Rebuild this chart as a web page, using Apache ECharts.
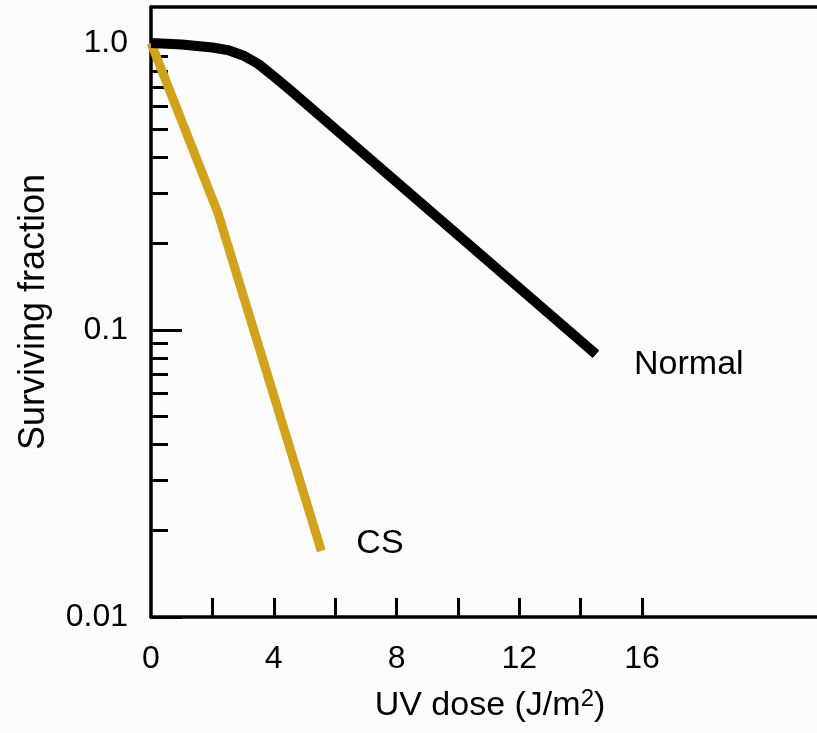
<!DOCTYPE html>
<html>
<head>
<meta charset="utf-8">
<script src="https://cdn.jsdelivr.net/npm/echarts@6/dist/echarts.min.js"></script>
<style>
html,body{margin:0;padding:0;background:#fcfcfc;}
#chart{width:817px;height:733px;}
</style>
</head>
<body>
<div id="chart"></div>
<script>
// UV dose (J/m^2) and surviving fraction
const normalDose = [0, 1.0, 2.0, 2.5, 3.0, 3.5, 4.0, 4.5, 14.5];
const normalSurv = [1.0, 0.988, 0.965, 0.945, 0.905, 0.845, 0.765, 0.691, 0.0823];
const csDose = [0, 2.18, 5.55];
const csSurv = [1.0, 0.256, 0.017];

const xTickValues = [2, 4, 6, 8, 10, 12, 14, 16];
const xLabelValues = [0, 4, 8, 12, 16];
const yMajorValues = [0.01, 0.1, 1];
const yMajorLabels = ['0.01', '0.1', '1.0'];
const yMinorValues = [0.02, 0.03, 0.04, 0.05, 0.06, 0.07, 0.08, 0.09,
                      0.2, 0.3, 0.4, 0.5, 0.6, 0.7, 0.8, 0.9];

const FONT = 'Liberation Sans';
const X_MAX = 21.7;
const Y_MIN = 0.01, Y_MAX = 1.335;

function yLabel(v) {
  let best = 0, bd = Infinity;
  yMajorValues.forEach((m, i) => {
    const d = Math.abs(Math.log10(v) - Math.log10(m));
    if (d < bd) { bd = d; best = i; }
  });
  return yMajorLabels[best];
}

const chart = echarts.init(document.getElementById('chart'), null, {renderer: 'canvas'});
chart.setOption({
  backgroundColor: '#fcfcfc',
  animation: false,
  grid: {left: 151, right: 0, top: 7, bottom: 116, containLabel: false},
  xAxis: [{
    type: 'value', min: 0, max: X_MAX, position: 'bottom',
    name: 'UV dose (J/m{sup|2})', nameLocation: 'middle', nameGap: 70,
    nameTextStyle: {fontFamily: FONT, fontSize: 34, color: '#000', padding: [0, 0, 0, 12],
      rich: {sup: {fontFamily: FONT, fontSize: 24, color: '#000', verticalAlign: 'top', padding: [0, 0, 14, 0]}}},
    axisLine: {show: true, lineStyle: {color: '#000', width: 3.5}},
    axisTick: {show: true, inside: true, length: 19, customValues: xTickValues, lineStyle: {color: '#000', width: 3}},
    axisLabel: {show: true, customValues: xLabelValues, margin: 26, fontFamily: FONT, fontSize: 32, color: '#000'},
    splitLine: {show: false}
  }, {
    type: 'value', min: 0, max: X_MAX, position: 'top',
    axisLine: {show: true, lineStyle: {color: '#000', width: 3.5}},
    axisTick: {show: false}, axisLabel: {show: false}, splitLine: {show: false}
  }],
  yAxis: [{
    type: 'log', logBase: 10, min: Y_MIN, max: Y_MAX, position: 'left',
    name: 'Surviving fraction', nameLocation: 'middle', nameGap: 99, nameRotate: 90,
    nameTextStyle: {fontFamily: FONT, fontSize: 36, color: '#000'},
    axisLine: {show: true, lineStyle: {color: '#000', width: 3.5}},
    axisTick: {show: true, inside: true, length: 31, customValues: yMajorValues, lineStyle: {color: '#000', width: 3}},
    axisLabel: {show: true, customValues: yMajorValues, margin: 23, fontFamily: FONT, fontSize: 32, color: '#000',
      formatter: yLabel},
    splitLine: {show: false}
  }, {
    type: 'log', logBase: 10, min: Y_MIN, max: Y_MAX, position: 'left', offset: 0,
    axisLine: {show: false},
    axisTick: {show: true, inside: true, length: 17, customValues: yMinorValues, lineStyle: {color: '#000', width: 3}},
    axisLabel: {show: false}, splitLine: {show: false}
  }],
  series: [{
    name: 'Normal', type: 'line', xAxisIndex: 0, yAxisIndex: 0,
    data: normalDose.map((d, i) => [d, normalSurv[i]]),
    showSymbol: false, smooth: false,
    lineStyle: {color: '#000', width: 10, cap: 'butt', join: 'round'},
    endLabel: {show: true, formatter: '{a}', offset: [30, 10], fontFamily: FONT, fontSize: 34, color: '#000'},
    z: 3
  }, {
    name: 'CS', type: 'line', xAxisIndex: 0, yAxisIndex: 0,
    data: csDose.map((d, i) => [d, csSurv[i]]),
    showSymbol: false,
    lineStyle: {color: '#d1a21c', width: 9, cap: 'butt', join: 'miter'},
    endLabel: {show: true, formatter: '{a}', offset: [27, -7], fontFamily: FONT, fontSize: 34, color: '#000'},
    z: 2
  }]
});
</script>
</body>
</html>
